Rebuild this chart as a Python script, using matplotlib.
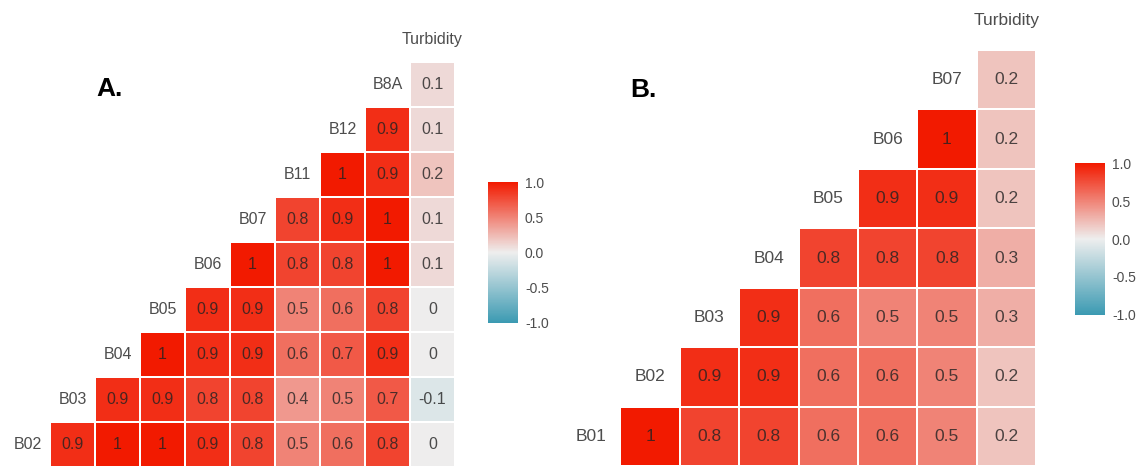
import numpy as np
import matplotlib
matplotlib.use("Agg")
import matplotlib.pyplot as plt
from matplotlib.colors import LinearSegmentedColormap
from matplotlib.transforms import Bbox, TransformedBbox

plt.rcParams['font.family'] = ['Liberation Sans', 'DejaVu Sans']

# panel A: Sentinel-2 bands (lower triangle, row i holds corr with later vars)
vars_a = ["B02", "B03", "B04", "B05", "B06", "B07", "B11", "B12", "B8A", "Turbidity"]
rows_a = [
    [0.9, 1, 1, 0.9, 0.8, 0.5, 0.6, 0.8, 0],
    [0.9, 0.9, 0.8, 0.8, 0.4, 0.5, 0.7, -0.1],
    [1, 0.9, 0.9, 0.6, 0.7, 0.9, 0],
    [0.9, 0.9, 0.5, 0.6, 0.8, 0],
    [1, 0.8, 0.8, 1, 0.1],
    [0.8, 0.9, 1, 0.1],
    [1, 0.9, 0.2],
    [0.9, 0.1],
    [0.1],
]

# panel B
vars_b = ["B01", "B02", "B03", "B04", "B05", "B06", "B07", "Turbidity"]
rows_b = [
    [1, 0.8, 0.8, 0.6, 0.6, 0.5, 0.2],
    [0.9, 0.9, 0.6, 0.6, 0.5, 0.2],
    [0.9, 0.6, 0.5, 0.5, 0.3],
    [0.8, 0.8, 0.8, 0.3],
    [0.9, 0.9, 0.2],
    [1, 0.2],
    [0.2],
]

cbar_ticks = [-1.0, -0.5, 0.0, 0.5, 1.0]

cmap = LinearSegmentedColormap.from_list("ggcorr", ["#3B9AB2", "#EEEEEE", "#F21A00"])

W, H = 1146, 466
fig = plt.figure(figsize=(W / 100, H / 100), dpi=100)


def px_axes(x0, x1, ytop, ybot):
    return fig.add_axes([x0 / W, (H - ybot) / H, (x1 - x0) / W, (ybot - ytop) / H])


def draw_panel(ax, names, rows, fs_val, fs_lab, clip_x=None):
    n = len(names)
    mat = np.full((n, n), np.nan)
    for i, r in enumerate(rows):
        for k, v in enumerate(r):
            mat[i, i + 1 + k] = v
    m = np.ma.masked_invalid(mat)
    mesh = ax.pcolormesh(np.arange(n + 1), np.arange(n + 1), m, cmap=cmap,
                         vmin=-1, vmax=1, edgecolors="white", linewidth=1.2)
    for i, r in enumerate(rows):
        for k, v in enumerate(r):
            ax.text(i + 1 + k + 0.5, i + 0.5, f"{v:g}", ha="center", va="center",
                    fontsize=fs_val, color="#222222", alpha=0.8)
    for i, name in enumerate(names):
        t = ax.text(i + 0.5, i + 0.5, name, ha="center", va="center",
                    fontsize=fs_lab, color="#4D4D4D", clip_on=False)
        if clip_x is not None:
            # the original panel image is cropped just right of the grid
            t.set_clip_on(True)
            t.set_clip_box(TransformedBbox(Bbox([[0, 0], [clip_x / W, 1]]), fig.transFigure))
    ax.set_xlim(0, n)
    ax.set_ylim(0, n)
    ax.axis("off")
    return mesh


def draw_cbar(mesh, cax):
    cb = fig.colorbar(mesh, cax=cax, ticks=cbar_ticks)
    cb.outline.set_visible(False)
    cb.ax.set_yticklabels([f"{t:.1f}" for t in cbar_ticks])
    cb.ax.tick_params(length=0, labelsize=10, labelcolor="#4D4D4D", pad=5)


ax_a = px_axes(5, 455, 17, 467)
mesh_a = draw_panel(ax_a, vars_a, rows_a, 11.5, 11.5, clip_x=464)
ax_b = px_axes(561, 1036, -9.4, 466)
mesh_b = draw_panel(ax_b, vars_b, rows_b, 12.5, 12.5)

draw_cbar(mesh_a, px_axes(488, 518, 182, 323))
draw_cbar(mesh_b, px_axes(1075, 1105, 163, 315))

fig.text(110 / W, 1 - 89 / H, "A.", fontsize=19, fontweight="bold", ha="center", va="center")
fig.text(643 / W, 1 - 90 / H, "B.", fontsize=19, fontweight="bold", ha="center", va="center")

fig.savefig("out.png", dpi=100)
